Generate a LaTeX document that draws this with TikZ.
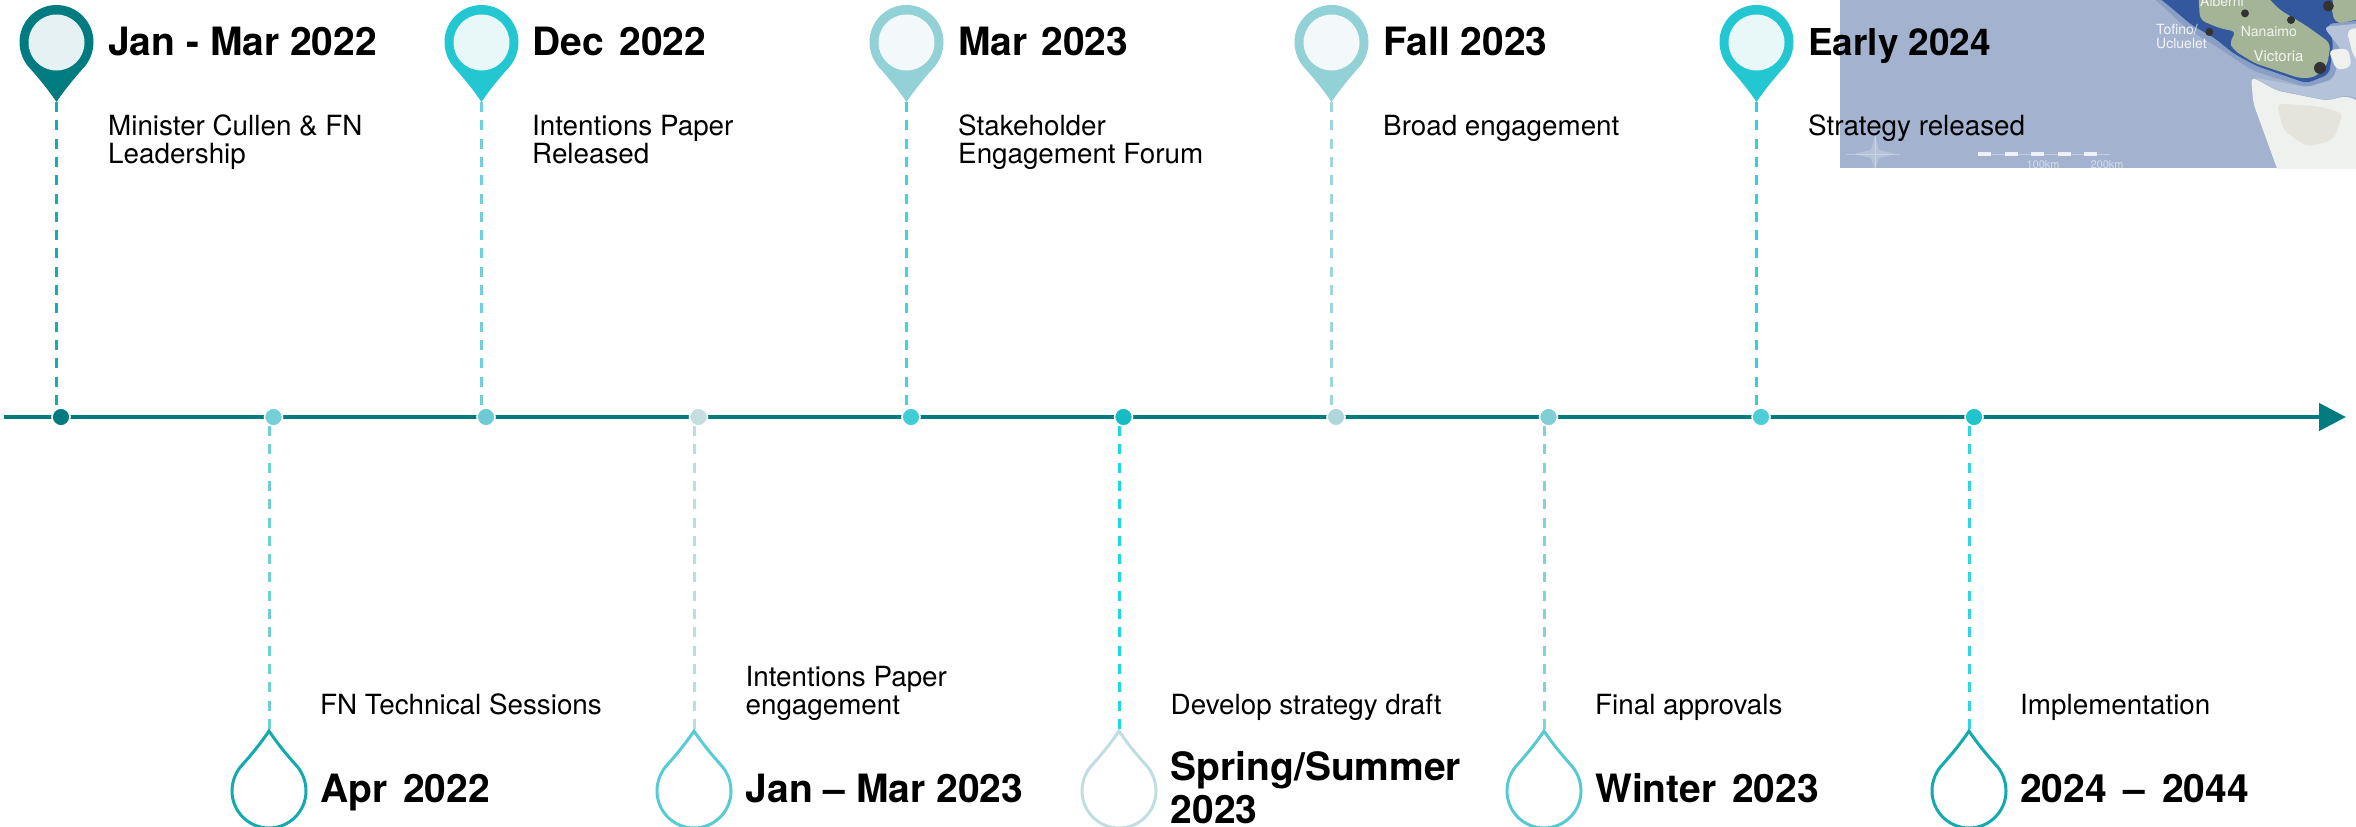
\documentclass[tikz,border=0pt]{standalone}
\usepackage{fontspec}
\setmainfont{TeX Gyre Heros}
\usetikzlibrary{arrows.meta}
\definecolor{teal}{HTML}{007C80}
\definecolor{aqua}{HTML}{23C7D2}
\definecolor{pale}{HTML}{92D1D6}
\definecolor{innerT}{HTML}{E5F1F2}
\definecolor{innerA}{HTML}{E8F7F8}
\definecolor{innerP}{HTML}{F3F9FA}
\definecolor{sea}{HTML}{A3B3CF}
\definecolor{seadeep}{HTML}{33589E}
\definecolor{seamid}{HTML}{8A9FC6}
\definecolor{strait}{HTML}{B4C2DA}
\definecolor{land}{HTML}{A3B596}
\definecolor{snow}{HTML}{EFF1EF}
\definecolor{snowb}{HTML}{E4E4DD}
\tikzset{
  heading/.style={anchor=base west,inner sep=0pt,font=\fontsize{39}{43}\selectfont\bfseries,align=left},
  sub/.style={anchor=base west,inner sep=0pt,font=\fontsize{27.8}{28.8}\selectfont,align=left},
  maplabel/.style={inner sep=0pt,text=white,opacity=.85,font=\fontsize{14}{13.5}\selectfont,align=left},
  leader/.style={line width=3pt,dash pattern=on 10pt off 8.3pt},
  axisline/.style={line width=4.5pt,color=teal},
  dotnode/.style={circle,inner sep=0pt,minimum size=18pt,draw=white,line width=1.6pt},
  citydot/.style={circle,inner sep=0pt,minimum size=8pt,fill=black!80},
  mapshape/.style={rounded corners=6pt},
}
\newcommand{\droppath}{(0,0) .. controls (-8,12) and (-18,24) .. (-26,33) .. controls (-33,40) and (-37,50) .. (-37,60) .. controls (-37,80.4) and (-20.4,97) .. (0,97) .. controls (20.4,97) and (37,80.4) .. (37,60) .. controls (37,50) and (33,40) .. (26,33) .. controls (18,24) and (8,12) .. (0,0) -- cycle}
\begin{document}
\begin{tikzpicture}[x=1pt,y=-1pt]
\useasboundingbox (0,0) rectangle (2356,827);

% map fragment
\begin{scope}
\clip (1840,0) rectangle (2356,168);
\fill[sea] (1840,0) rectangle (2356,168);
\begin{scope}[shift={(2120,0)},x=.3333pt,y=-.3333pt]
\fill[seamid,mapshape] (85,-20) -- (200,85) -- (290,140) -- (400,213) -- (560,262) -- (650,235) -- (680,125) -- (730,90) -- (730,-20) -- cycle;
\fill[seadeep,mapshape] (100,-20) -- (150,20) -- (215,75) -- (285,115) -- (340,160) -- (410,198) -- (560,250) -- (628,222) -- (640,125) -- (620,72) -- (730,60) -- (730,-20) -- cycle;
\fill[land,mapshape] (235,-20) -- (240,60) -- (300,85) -- (350,95) -- (328,125) -- (340,150) -- (405,190) -- (540,235) -- (585,232) -- (622,195) -- (632,130) -- (560,78) -- (480,30) -- (430,-20) -- cycle;
\fill[land,mapshape] (640,-20) -- (730,-20) -- (730,55) -- (650,72) -- (635,40) -- cycle;
\fill[strait,mapshape] (610,80) -- (730,70) -- (730,300) -- (680,285) -- (620,300) -- (470,270) -- (400,232) -- (560,262) -- (640,238) -- (665,150) -- cycle;
\fill[snow,mapshape] (393,230) -- (470,272) -- (620,302) -- (680,288) -- (730,310) -- (730,530) -- (480,530) -- (440,420) -- (400,310) -- cycle;
\fill[snowb,mapshape] (470,310) -- (600,320) -- (670,340) -- (640,420) -- (560,440) -- (490,390) -- cycle;
\fill[snow,mapshape] (625,150) -- (685,145) -- (695,200) -- (650,212) -- cycle;
\fill[snow,mapshape] (680,90) -- (730,80) -- (730,200) -- (700,170) -- cycle;
\node[citydot] (alberni) at (375,40) {};
\node[citydot] (tofino) at (268,96) {};
\node[citydot] (nanaimo) at (513,60) {};
\node[citydot,minimum size=12pt] (victoria) at (600,204) {};
\node[citydot,minimum size=11pt] (vancouver) at (625,18) {};
\node[maplabel,anchor=west] (tofinolabel) at (108,110) {Tofino/\\Ucluelet};
\node[maplabel,anchor=west] (nanaimolabel) at (362,96) {Nanaimo};
\node[maplabel,anchor=west,font=\fontsize{15}{16}\selectfont] (victorialabel) at (400,168) {Victoria};
\node[maplabel,anchor=west] (albernilabel) at (240,4) {Alberni};
\end{scope}
% scale bar and compass, faint
\foreach \sx in {1978,2005,2031,2058,2084}{\fill[white,opacity=.8] (\sx,152) rectangle +(13,3.5);}
\draw[white,opacity=.35,line width=.8pt] (1978,154) -- (2110,154);
\node[maplabel,opacity=.55,font=\fontsize{11}{12}\selectfont] (km1) at (2043,165) {100km};
\node[maplabel,opacity=.55,font=\fontsize{11}{12}\selectfont] (km2) at (2107,165) {200km};
\draw[white,opacity=.3,line width=1pt] (1875,135) -- (1875,168) (1846,154) -- (1900,154);
\fill[white,opacity=.2] (1875,135) -- (1879,150) -- (1896,154) -- (1879,158) -- (1875,170) -- (1871,158) -- (1854,154) -- (1871,150) -- cycle;
\end{scope}

% axis coordinates for leaders
\foreach \n/\x in {u1/56,u2/481,u3/906,u4/1331,u5/1756,d1/269,d2/694,d3/1119,d4/1544,d5/1969}{
  \coordinate (ax\n) at (\x,417);
}
% pins: name/x/outer/inner/leader colour
\foreach \n/\x/\c/\i/\l in {u1/56.5/teal/innerT/13AEB5,u2/481.5/aqua/innerA/6DD0D8,u3/906.5/pale/innerP/40D3E0,u4/1331.5/pale/innerP/A0D6DB,u5/1756.5/aqua/innerA/30D0DC}{
  \definecolor{ldr}{HTML}{\l}
  \coordinate (tip\n) at (\x-.5,102);
  \draw[leader,ldr] (tip\n) -- (ax\n);
  \begin{scope}[shift={(\x,102)},yscale=-1]
    \fill[\c] \droppath;
  \end{scope}
  \fill[\i] (\x,42.5) circle[radius=28pt];
}
% drops
\foreach \n/\x/\c/\l in {d1/269/12A9AF/6DD0D8,d2/694/56CCD4/BBDCE0,d3/1119/C0DDE0/1AD8E6,d4/1544/56CAD3/7FD3DA,d5/1969/12A9AF/30D5E2}{
  \definecolor{ldr}{HTML}{\l}
  \definecolor{drp}{HTML}{\c}
  \coordinate (tip\n) at (\x,731);
  \draw[leader,ldr] (ax\n) ++(0,9) -- (tip\n);
  \begin{scope}[shift={(\x,731)}]
    \draw[drp,line width=3pt] \droppath;
  \end{scope}
}

% axis
\coordinate (axstart) at (4,417);
\coordinate (axend) at (2346,417);
\draw[axisline,-{Triangle[length=27pt,width=27pt]}] (axstart) -- (axend);
\foreach \n/\x/\c in {a/61/007C80,b/273.5/75CFD6,c/486/6CCBD5,d/698.5/C5DEE0,e/911/3FCDD6,f/1123.5/18BBC5,g/1336/B0D8DC,h/1548.5/80CFD4,i/1761/4CCDD8,j/1974/1EC5CF}{
  \definecolor{dt}{HTML}{\c}
  \node[dotnode,fill=dt] (dot\n) at (\x,417) {};
}

% top labels
\node[heading] (h1) at (108,55) {Jan - Mar 2022};
\node[heading] (h2) at (532,55) {Dec\hspace{5pt} 2022};
\node[heading] (h3) at (958,55) {Mar\hspace{3pt} 2023};
\node[heading] (h4) at (1383,55) {Fall 2023};
\node[heading,font=\fontsize{37}{43}\selectfont\bfseries] (h5) at (1808,55) {Early 2024};
\node[sub] (s1) at (108,135) {Minister Cullen \& FN};
\node[sub] (s1b) at (108,163.5) {Leadership};
\node[sub] (s2) at (532,135) {Intentions Paper};
\node[sub] (s2b) at (532,163.5) {Released};
\node[sub] (s3) at (958,135) {Stakeholder};
\node[sub] (s3b) at (958,163.5) {Engagement Forum};
\node[sub] (s4) at (1383,135) {Broad engagement};
\node[sub] (s5) at (1808,135) {Strategy released};

% bottom labels
\node[sub] (t1) at (320,714) {FN Technical Sessions};
\node[sub] (t2) at (745.5,686) {Intentions Paper};
\node[sub] (t2b) at (745.5,714.5) {engagement};
\node[sub] (t3) at (1170.5,714) {Develop strategy draft};
\node[sub] (t4) at (1595,714) {Final approvals};
\node[sub] (t5) at (2020,714) {Implementation};
\node[heading] (b1) at (320,802) {Apr\hspace{5pt} 2022};
\node[heading] (b2) at (745.5,802) {Jan – Mar 2023};
\node[heading] (b3) at (1170.5,780) {Spring/Summer};
\node[heading] (b3b) at (1170.5,823) {2023};
\node[heading] (b4) at (1595,802) {Winter\hspace{5pt} 2023};
\node[heading] (b5) at (2020,802) {2024\hspace{6pt} –\hspace{6pt} 2044};
\end{tikzpicture}
\end{document}
